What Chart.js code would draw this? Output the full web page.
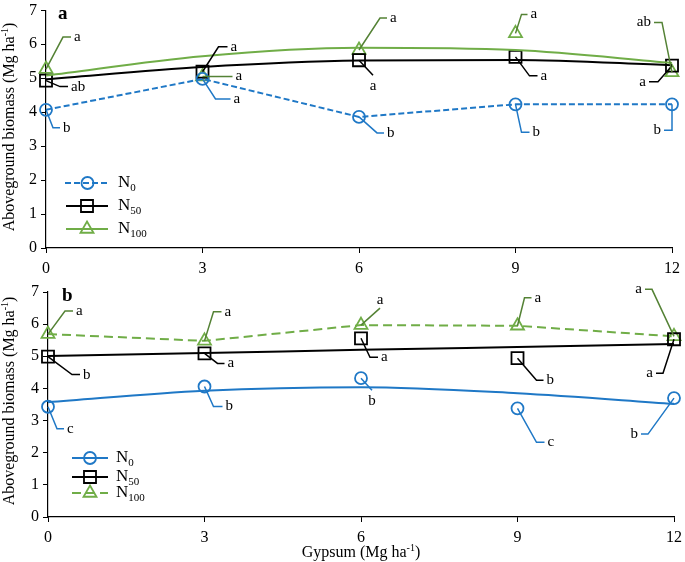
<!DOCTYPE html>
<html>
<head>
<meta charset="utf-8">
<script src="https://cdn.jsdelivr.net/npm/chart.js@4"></script>
<style>
  body { margin: 0; background: #fff; }
  #wrap { position: relative; width: 685px; height: 562px; }
  canvas { position: absolute; left: 0; }
  #chartA { top: 0; }
  #chartB { top: 270px; }
</style>
</head>
<body>
<div id="wrap">
  <canvas id="chartA" width="685" height="282"></canvas>
  <canvas id="chartB" width="685" height="292"></canvas>
</div>
<script>
// gypsum rates (x)
var gypsum = [0, 3, 6, 9, 12];

// panel a - observed means
var aN0 = [4.07, 4.98, 3.86, 4.23, 4.23];
var aN50 = [4.93, 5.19, 5.53, 5.63, 5.37];
var aN100 = [5.27, 5.05, 5.83, 6.32, 5.17];
// panel a - fitted curves
var aN50fit = [4.97, 5.33, 5.52, 5.54, 5.38];
var aN100fit = [5.08, 5.65, 5.9, 5.83, 5.45];
// panel a - letters
var aN0let = ["b", "a", "b", "b", "b"];
var aN50let = ["ab", "a", "a", "a", "a"];
var aN100let = ["a", "a", "a", "a", "ab"];

// panel b - observed means
var bN0 = [3.43, 4.06, 4.32, 3.38, 3.70];
var bN50 = [4.99, 5.09, 5.56, 4.94, 5.53];
var bN100 = [5.69, 5.48, 5.97, 5.95, 5.62];
// panel b - fitted curves
var bN0fit = [3.57, 3.93, 4.04, 3.85, 3.52];
var bN50fit = [5.01, 5.10, 5.20, 5.29, 5.38];
// panel b - letters
var bN0let = ["c", "b", "b", "c", "b"];
var bN50let = ["b", "a", "a", "b", "a"];
var bN100let = ["a", "a", "a", "a", "a"];

var yTicks = [0, 1, 2, 3, 4, 5, 6, 7];
var xTicks = [0, 3, 6, 9, 12];

var BLUE = "#1f78c6", BLACK = "#000000", GREEN = "#70ad47", DKGREEN = "#548235";
var FONT = "'Liberation Serif', 'Times New Roman', serif";

function pts(vals) {
  return vals.map(function(v, i) { return { x: gypsum[i], y: v }; });
}

function markers(label, vals, color, style, r, line, dash) {
  return {
    label: label, data: pts(vals), borderColor: color, backgroundColor: "rgba(0,0,0,0)",
    pointStyle: style, pointRadius: r, pointBorderWidth: 1.8, pointBorderColor: color,
    showLine: !!line, borderWidth: 2, borderDash: dash || [], tension: 0, clip: false
  };
}

function curve(vals, color, dash, tension) {
  return {
    data: pts(vals), borderColor: color, borderWidth: 2, pointRadius: 0,
    borderDash: dash || [], tension: tension, cubicInterpolationMode: "monotone",
    showLine: true, clip: false
  };
}

// leader offsets: [knee dx, knee dy, horizontal run]
function drawCallouts(ctx, chart, dsIndex, letters, offs, color) {
  var meta = chart.getDatasetMeta(dsIndex);
  ctx.save();
  ctx.strokeStyle = color;
  ctx.lineWidth = 1.5;
  ctx.fillStyle = "#000";
  ctx.font = "15px " + FONT;
  meta.data.forEach(function(p, i) {
    var o = offs[i];
    var kx = p.x + o[0], ky = p.y + o[1], ex = kx + o[2];
    ctx.beginPath();
    ctx.moveTo(p.x, p.y);
    ctx.lineTo(kx, ky);
    ctx.lineTo(ex, ky);
    ctx.stroke();
    if (o[2] > 0) {
      ctx.textAlign = "left"; ctx.textBaseline = "middle";
      ctx.fillText(letters[i], ex + 3, ky);
    } else if (o[2] < 0) {
      ctx.textAlign = "right"; ctx.textBaseline = "middle";
      ctx.fillText(letters[i], ex - 3, ky);
    } else if (o[1] > 0) {
      ctx.textAlign = "center"; ctx.textBaseline = "top";
      ctx.fillText(letters[i], ex, ky + 3);
    } else {
      ctx.textAlign = "center"; ctx.textBaseline = "bottom";
      ctx.fillText(letters[i], ex, ky - 1);
    }
  });
  ctx.restore();
}

function drawMarker(ctx, style, x, y, r, color) {
  ctx.save();
  ctx.strokeStyle = color;
  ctx.lineWidth = 1.8;
  ctx.setLineDash([]);
  ctx.beginPath();
  if (style === "circle") {
    ctx.arc(x, y, r, 0, Math.PI * 2);
  } else if (style === "rect") {
    var s = r * Math.SQRT1_2;
    ctx.rect(x - s, y - s, 2 * s, 2 * s);
  } else {
    for (var k = 0; k < 3; k++) {
      var a = -Math.PI / 2 + k * 2 * Math.PI / 3;
      var px = x + r * Math.cos(a), py = y + r * Math.sin(a);
      if (k === 0) ctx.moveTo(px, py); else ctx.lineTo(px, py);
    }
    ctx.closePath();
  }
  ctx.stroke();
  ctx.restore();
}

function drawLegend(ctx, items) {
  items.forEach(function(it) {
    ctx.save();
    ctx.strokeStyle = it.color;
    ctx.lineWidth = 2;
    ctx.setLineDash(it.dash || []);
    ctx.beginPath();
    ctx.moveTo(it.x0, it.y);
    ctx.lineTo(it.x1, it.y);
    ctx.stroke();
    ctx.restore();
    drawMarker(ctx, it.style, (it.x0 + it.x1) / 2, it.y, it.r, it.color);
    ctx.save();
    ctx.fillStyle = "#000";
    ctx.textBaseline = "middle";
    ctx.textAlign = "left";
    ctx.font = "17px " + FONT;
    ctx.fillText("N", it.tx, it.y);
    var w = ctx.measureText("N").width;
    ctx.font = "11px " + FONT;
    ctx.fillText(it.sub, it.tx + w, it.y + 5);
    ctx.restore();
  });
}

function drawYTitle(ctx, cx, cy) {
  ctx.save();
  ctx.translate(cx, cy);
  ctx.rotate(-Math.PI / 2);
  ctx.fillStyle = "#000";
  ctx.textBaseline = "middle";
  ctx.textAlign = "left";
  var main = "Aboveground biomass (Mg ha", sup = "-1", end = ")";
  ctx.font = "16px " + FONT;
  var w1 = ctx.measureText(main).width, w3 = ctx.measureText(end).width;
  ctx.font = "10px " + FONT;
  var w2 = ctx.measureText(sup).width;
  var x = -(w1 + w2 + w3) / 2;
  ctx.font = "16px " + FONT;
  ctx.fillText(main, x, 0);
  ctx.font = "10px " + FONT;
  ctx.fillText(sup, x + w1, -5);
  ctx.font = "16px " + FONT;
  ctx.fillText(end, x + w1 + w2, 0);
  ctx.restore();
}

function drawXTitle(ctx, cx, cy) {
  ctx.save();
  ctx.fillStyle = "#000";
  ctx.textBaseline = "middle";
  ctx.textAlign = "left";
  var main = "Gypsum (Mg ha", sup = "-1", end = ")";
  ctx.font = "16px " + FONT;
  var w1 = ctx.measureText(main).width, w3 = ctx.measureText(end).width;
  ctx.font = "10px " + FONT;
  var w2 = ctx.measureText(sup).width;
  var x = cx - (w1 + w2 + w3) / 2;
  ctx.font = "16px " + FONT;
  ctx.fillText(main, x, cy);
  ctx.font = "10px " + FONT;
  ctx.fillText(sup, x + w1, cy - 5);
  ctx.font = "16px " + FONT;
  ctx.fillText(end, x + w1 + w2, cy);
  ctx.restore();
}

var decor = {
  id: "decor",
  afterDatasetsDraw: function(chart, args, opts) {
    var ctx = chart.ctx;
    opts.callouts.forEach(function(c) {
      drawCallouts(ctx, chart, c.ds, c.letters, c.offs, c.color);
    });
    drawLegend(ctx, opts.legend);
    drawYTitle(ctx, opts.yTitle[0], opts.yTitle[1]);
    if (opts.xTitle) drawXTitle(ctx, opts.xTitle[0], opts.xTitle[1]);
    ctx.save();
    ctx.fillStyle = "#000";
    ctx.font = "bold 19px " + FONT;
    ctx.textAlign = "left";
    ctx.textBaseline = "middle";
    ctx.fillText(opts.panel[0], opts.panel[1], opts.panel[2]);
    ctx.restore();
  }
};

function scales(yWidth, xHeight) {
  var tickFont = { family: FONT, size: 16 };
  return {
    x: {
      type: "linear", min: 0, max: 12,
      afterBuildTicks: function(s) { s.ticks = xTicks.map(function(v) { return { value: v }; }); },
      afterFit: function(s) { s.height = xHeight; s.paddingLeft = 0; s.paddingRight = 0; },
      grid: { drawOnChartArea: false, drawTicks: true, tickLength: 5, color: "#000", lineWidth: 1 },
      border: { color: "#000", width: 1.2 },
      ticks: { font: tickFont, color: "#000", padding: 6, maxRotation: 0 }
    },
    y: {
      min: 0, max: 7,
      afterBuildTicks: function(s) { s.ticks = yTicks.map(function(v) { return { value: v }; }); },
      afterFit: function(s) { s.width = yWidth; s.paddingTop = 0; s.paddingBottom = 0; },
      grid: { drawOnChartArea: false, drawTicks: true, tickLength: 5, color: "#000", lineWidth: 1 },
      border: { color: "#000", width: 1.2 },
      ticks: { font: tickFont, color: "#000", padding: 4 }
    }
  };
}

new Chart(document.getElementById("chartA"), {
  type: "scatter",
  data: {
    datasets: [
      curve(aN50fit, BLACK, [], 0.4),
      curve(aN100fit, GREEN, [], 0.4),
      markers("N0", aN0, BLUE, "circle", 6, true, [6, 3]),
      markers("N50", aN50, BLACK, "rect", 8.5, false),
      markers("N100", aN100, GREEN, "triangle", 7.5, false)
    ]
  },
  options: {
    responsive: false, animation: false, devicePixelRatio: 1,
    layout: { padding: { top: 6, right: 13, left: 0, bottom: 0 } },
    scales: scales(46, 34),
    plugins: {
      legend: { display: false }, tooltip: { enabled: false },
      decor: {
        panel: ["a", 58, 14],
        yTitle: [10, 127],
        legend: [
          { x0: 65, x1: 110, y: 183, color: BLUE, dash: [6, 3], style: "circle", r: 6, tx: 118, sub: "0" },
          { x0: 66, x1: 108, y: 206, color: BLACK, style: "rect", r: 8.5, tx: 118, sub: "50" },
          { x0: 66, x1: 108, y: 229, color: GREEN, style: "triangle", r: 7.5, tx: 118, sub: "100" }
        ],
        callouts: [
          { ds: 2, letters: aN0let, color: BLUE,
            offs: [[7, 18, 7], [13, 20, 15], [18, 16, 7], [6, 28, 8], [0, 26, -8]] },
          { ds: 3, letters: aN50let, color: BLACK,
            offs: [[14, 6, 8], [16, -25, 9], [14, 15, 0], [14, 19, 8], [-14, 16, -9]] },
          { ds: 4, letters: aN100let, color: DKGREEN,
            offs: [[17, -32, 8], [0, 0, 30], [21, -32, 7], [6, -19, 6], [-10, -50, -8]] }
        ]
      }
    }
  },
  plugins: [decor]
});

new Chart(document.getElementById("chartB"), {
  type: "scatter",
  data: {
    datasets: [
      curve(bN0fit, BLUE, [], 0.4),
      curve(bN50fit, BLACK, [], 0),
      markers("N0", bN0, BLUE, "circle", 6, false),
      markers("N50", bN50, BLACK, "rect", 8.5, false),
      markers("N100", bN100, GREEN, "triangle", 7.5, true, [9, 5])
    ]
  },
  options: {
    responsive: false, animation: false, devicePixelRatio: 1,
    layout: { padding: { top: 22, right: 11, left: 0, bottom: 0 } },
    scales: scales(48, 45),
    plugins: {
      legend: { display: false }, tooltip: { enabled: false },
      decor: {
        panel: ["b", 62, 26],
        yTitle: [10, 131],
        xTitle: [361, 283],
        legend: [
          { x0: 72, x1: 108, y: 188, color: BLUE, style: "circle", r: 6, tx: 116, sub: "0" },
          { x0: 72, x1: 108, y: 207, color: BLACK, style: "rect", r: 8.5, tx: 116, sub: "50" },
          { x0: 72, x1: 108, y: 223, color: GREEN, dash: [9, 5], style: "triangle", r: 7.5, tx: 116, sub: "100" }
        ],
        callouts: [
          { ds: 2, letters: bN0let, color: BLUE,
            offs: [[9, 22, 7], [9, 20, 9], [11, 12, 0], [19, 34, 8], [-26, 36, -7]] },
          { ds: 3, letters: bN50let, color: BLACK,
            offs: [[24, 18, 8], [13, 10, 7], [9, 19, 8], [19, 22, 7], [-11, 34, -7]] },
          { ds: 4, letters: bN100let, color: DKGREEN,
            offs: [[17, -23, 8], [9, -29, 8], [19, -17, 0], [7, -28, 7], [-22, -47, -7]] }
        ]
      }
    }
  },
  plugins: [decor]
});
</script>
</body>
</html>
